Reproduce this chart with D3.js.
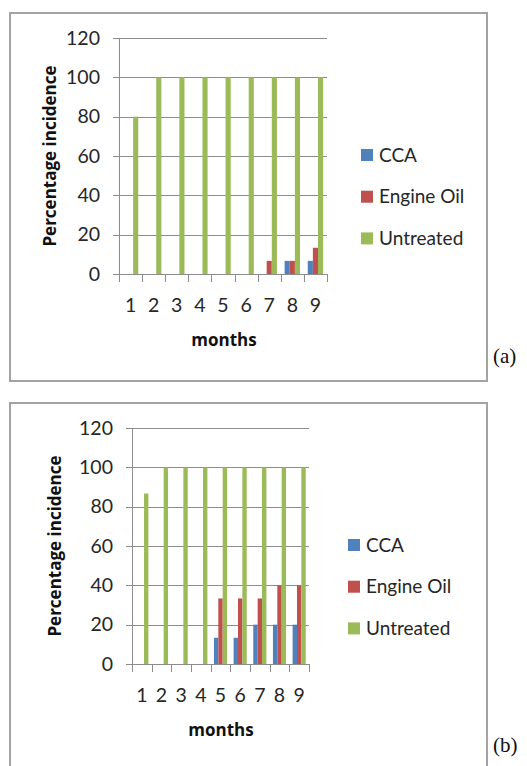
<!DOCTYPE html>
<html>
<head>
<meta charset="utf-8">
<script src="https://cdn.jsdelivr.net/npm/d3@7"></script>
<style>
    body { margin: 0; background: #fff; }
    svg { display: block; }
    .tick-label { font-family: Lato, "Open Sans", sans-serif; font-size: 19.5px; fill: #262626; }
    .axis-title { font-family: "Open Sans", Lato, sans-serif; font-size: 17px; font-weight: bold; fill: #111; }
    .legend-label { font-family: Lato, "Open Sans", sans-serif; font-size: 19px; fill: #262626; }
    .panel-label { font-family: "Liberation Serif", serif; font-size: 21px; fill: #111; }
</style>
</head>
<body>
<svg id="chart"></svg>
<script>
var months = ["1", "2", "3", "4", "5", "6", "7", "8", "9"];
var seriesNames = ["CCA", "Engine Oil", "Untreated"];
var yTicks = [0, 20, 40, 60, 80, 100, 120];

// panel (a)
var ccaA = [0, 0, 0, 0, 0, 0, 0, 6.67, 6.67];
var oilA = [0, 0, 0, 0, 0, 0, 6.67, 6.67, 13.33];
var untreatedA = [80, 100, 100, 100, 100, 100, 100, 100, 100];

// panel (b)
var ccaB = [0, 0, 0, 0, 13.33, 13.33, 20, 20, 20];
var oilB = [0, 0, 0, 0, 33.33, 33.33, 33.33, 40, 40];
var untreatedB = [86.67, 100, 100, 100, 100, 100, 100, 100, 100];

var colors = ["#4F81BD", "#C0504D", "#9BBB59"];

var chart = d3.select("#chart")
    .attr("width", 527)
    .attr("height", 766);

function drawPanel(series, opt) {
    var g = chart.append("g");

    // frame
    g.append("rect")
        .attr("x", opt.frame[0]).attr("y", opt.frame[1])
        .attr("width", opt.frame[2]).attr("height", opt.frame[3])
        .attr("fill", "none")
        .attr("stroke", "#a3a3a3")
        .attr("stroke-width", 2);

    var y = d3.scaleLinear().domain([0, 120]).range([opt.bottom, opt.top]);
    var x = d3.scaleBand().domain(months).range([opt.left, opt.right]).paddingInner(0).paddingOuter(0);
    // Excel style: gap width 150% of a bar
    var barW = x.bandwidth() / 4.5;
    var gap = x.bandwidth() - barW * 3;

    // gridlines
    g.selectAll(".grid")
        .data(yTicks)
        .enter().append("line")
        .attr("x1", opt.left - 6).attr("x2", opt.right)
        .attr("y1", function (d) { return Math.round(y(d)) + 0.5; })
        .attr("y2", function (d) { return Math.round(y(d)) + 0.5; })
        .attr("stroke", "#8c8c8c")
        .attr("stroke-width", 1);

    // y axis line
    g.append("line")
        .attr("x1", opt.left + 0.5).attr("x2", opt.left + 0.5)
        .attr("y1", y(120)).attr("y2", y(0))
        .attr("stroke", "#8c8c8c");

    // x tick marks
    g.selectAll(".xtick")
        .data(d3.range(months.length + 1))
        .enter().append("line")
        .attr("x1", function (i) { return Math.round(opt.left + i * x.step()) + 0.5; })
        .attr("x2", function (i) { return Math.round(opt.left + i * x.step()) + 0.5; })
        .attr("y1", y(0)).attr("y2", y(0) + 8)
        .attr("stroke", "#8c8c8c");

    // bars
    series.forEach(function (vals, si) {
        g.selectAll(".bar" + si)
            .data(vals)
            .enter().append("rect")
            .attr("x", function (d, i) { return x(months[i]) + gap / 2 + si * barW; })
            .attr("y", function (d) { return y(d); })
            .attr("width", barW)
            .attr("height", function (d) { return y(0) - y(d); })
            .attr("fill", colors[si]);
    });

    // y tick labels
    g.selectAll(".ylab")
        .data(yTicks)
        .enter().append("text")
        .attr("class", "tick-label")
        .attr("x", opt.left - 19)
        .attr("y", function (d) { return y(d); })
        .attr("dy", "0.35em")
        .attr("text-anchor", "end")
        .text(function (d) { return d; });

    // x tick labels
    g.selectAll(".xlab")
        .data(months)
        .enter().append("text")
        .attr("class", "tick-label")
        .attr("x", function (d) { return x(d) + x.bandwidth() / 2; })
        .attr("y", y(0) + 31)
        .attr("dy", "0.35em")
        .attr("text-anchor", "middle")
        .text(function (d) { return d; });

    g.append("text")
        .attr("class", "axis-title")
        .attr("x", opt.monthsX)
        .attr("y", y(0) + 66)
        .attr("dy", "0.35em")
        .attr("text-anchor", "middle")
        .text("months");

    g.append("text")
        .attr("class", "axis-title")
        .attr("transform", "translate(" + opt.yTitleX + "," + (y(60)) + ") rotate(-90)")
        .attr("dy", "0.35em")
        .attr("text-anchor", "middle")
        .text("Percentage incidence");

    // legend
    var leg = g.selectAll(".leg")
        .data(seriesNames)
        .enter().append("g")
        .attr("transform", function (d, i) { return "translate(" + opt.legendX + "," + (opt.legendY + i * 41.7) + ")"; });
    leg.append("rect")
        .attr("x", 0).attr("y", -6)
        .attr("width", 12).attr("height", 12)
        .attr("fill", function (d, i) { return colors[i]; });
    leg.append("text")
        .attr("class", "legend-label")
        .attr("x", 18)
        .attr("dy", "0.35em")
        .text(function (d) { return d; });

    g.append("text")
        .attr("class", "panel-label")
        .attr("x", 493)
        .attr("y", opt.panelLabelY)
        .text(opt.panelLabel);
}

drawPanel([ccaA, oilA, untreatedA], {
    frame: [10, 13, 477, 368],
    left: 119, right: 327, top: 38, bottom: 274,
    monthsX: 224, yTitleX: 50,
    legendX: 361, legendY: 155,
    panelLabel: "(a)", panelLabelY: 363
});

drawPanel([ccaB, oilB, untreatedB], {
    frame: [10, 403, 477, 370],
    left: 132, right: 309, top: 428, bottom: 664,
    monthsX: 221, yTitleX: 55,
    legendX: 348, legendY: 545,
    panelLabel: "(b)", panelLabelY: 752
});
</script>
</body>
</html>
